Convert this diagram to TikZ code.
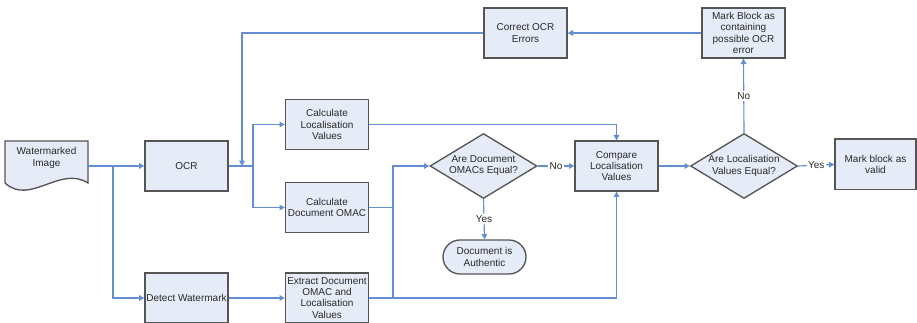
\documentclass[tikz,border=0pt]{standalone}
\usepackage{fontspec}
\setmainfont{Liberation Sans}
\usetikzlibrary{arrows.meta,shapes.geometric,shapes.misc}
\definecolor{lineblue}{RGB}{100,142,212}
\definecolor{boxfill}{RGB}{230,236,247}
\definecolor{boxdraw}{RGB}{85,85,85}
\definecolor{txt}{RGB}{40,40,40}
\tikzset{
  x=0.75pt, y=-0.75pt,
  every node/.style={font=\fontsize{7.5}{8.4}\selectfont, text=txt, align=center},
  proc/.style={rectangle, draw=boxdraw, fill=boxfill, line width=1pt, minimum width=62.25pt, minimum height=37.5pt, inner sep=0pt},
  decide/.style={diamond, draw=boxdraw, fill=boxfill, line width=1pt, minimum width=80.25pt, minimum height=48.75pt, aspect=1.65, inner sep=0pt},
  term/.style={rounded rectangle, draw=boxdraw, fill=boxfill, line width=1pt, minimum width=62.25pt, minimum height=25.5pt, inner sep=0pt},
  conn/.style={draw=lineblue, line width=0.85pt},
  arr/.style={conn, -{Triangle[length=4pt,width=4.2pt]}},
  lbl/.style={fill=white, inner sep=1pt},
}
\begin{document}
\begin{tikzpicture}
\useasboundingbox (0,0) rectangle (917,323);
% document shape
\filldraw[fill=boxfill, draw=boxdraw, line width=1pt]
  (5,141) -- (88,141) -- (88,183) .. controls (60,165) and (30,206) .. (5,183) -- cycle;
\node (wm) at (46.5,158) {Watermarked\\Image};
\coordinate (wmout) at (88,166);
% nodes
\node[proc] (ocr) at (186.5,166) {OCR};
\node[proc] (det) at (186.5,298) {Detect Watermark};
\node[proc] (calcloc) at (327,124.5) {Calculate\\Localisation\\Values};
\node[proc] (calcomac) at (327,207.5) {Calculate\\Document OMAC};
\node[proc] (extract) at (327,298) {Extract Document\\OMAC and\\Localisation\\Values};
\node[decide] (d1) at (483.5,166) {Are Document\\OMACs Equal?};
\node[term] (auth) at (484.5,257) {Document is\\Authentic};
\node[proc] (compare) at (616.5,166) {Compare\\Localisation\\Values};
\node[decide] (d2) at (744,166) {Are Localisation\\Values Equal?};
\node[proc, minimum width=60.75pt, minimum height=38pt] (valid) at (875.5,164.5) {Mark block as\\valid};
\node[proc] (mark) at (743.5,33) {Mark Block as\\containing\\possible OCR\\error};
\node[proc] (corr) at (525.5,33) {Correct OCR\\Errors};
% junction coordinates
\coordinate (j1) at (113,166);
\coordinate (j2) at (253,166);
\coordinate (c1) at (242,166);
\coordinate (j3) at (393,298);
\coordinate (j4) at (393,207.5);
% connectors
\draw[arr] (wmout) -- (ocr.west);
\draw[arr] (j1) |- (det.west);
\draw[conn] (ocr.east) -- (j2);
\draw[arr] (j2) |- (calcloc.west);
\draw[arr] (j2) |- (calcomac.west);
\draw[arr] (det.east) -- (extract.west);
\draw[conn] (calcomac.east) -- (j4);
\draw[arr] (extract.east) -| (compare.south);
\draw[arr] (j3) |- (d1.west);
\draw[arr] (calcloc.east) -| (compare.north);
\draw[arr] (d1.east) -- node[lbl] (no1) {No} (compare.west);
\draw[arr] (d1.south) -- node[lbl] (yes1) {Yes} (auth.north);
\draw[arr] (compare.east) -- (d2.west);
\draw[arr] (d2.east) -- node[lbl] (yes2) {Yes} (valid.west);
\draw[arr] (d2.north) -- node[lbl] (no2) {No} (mark.south);
\draw[arr] (mark.west) -- (corr.east);
\draw[arr] (corr.west) -| (c1);
\end{tikzpicture}
\end{document}
